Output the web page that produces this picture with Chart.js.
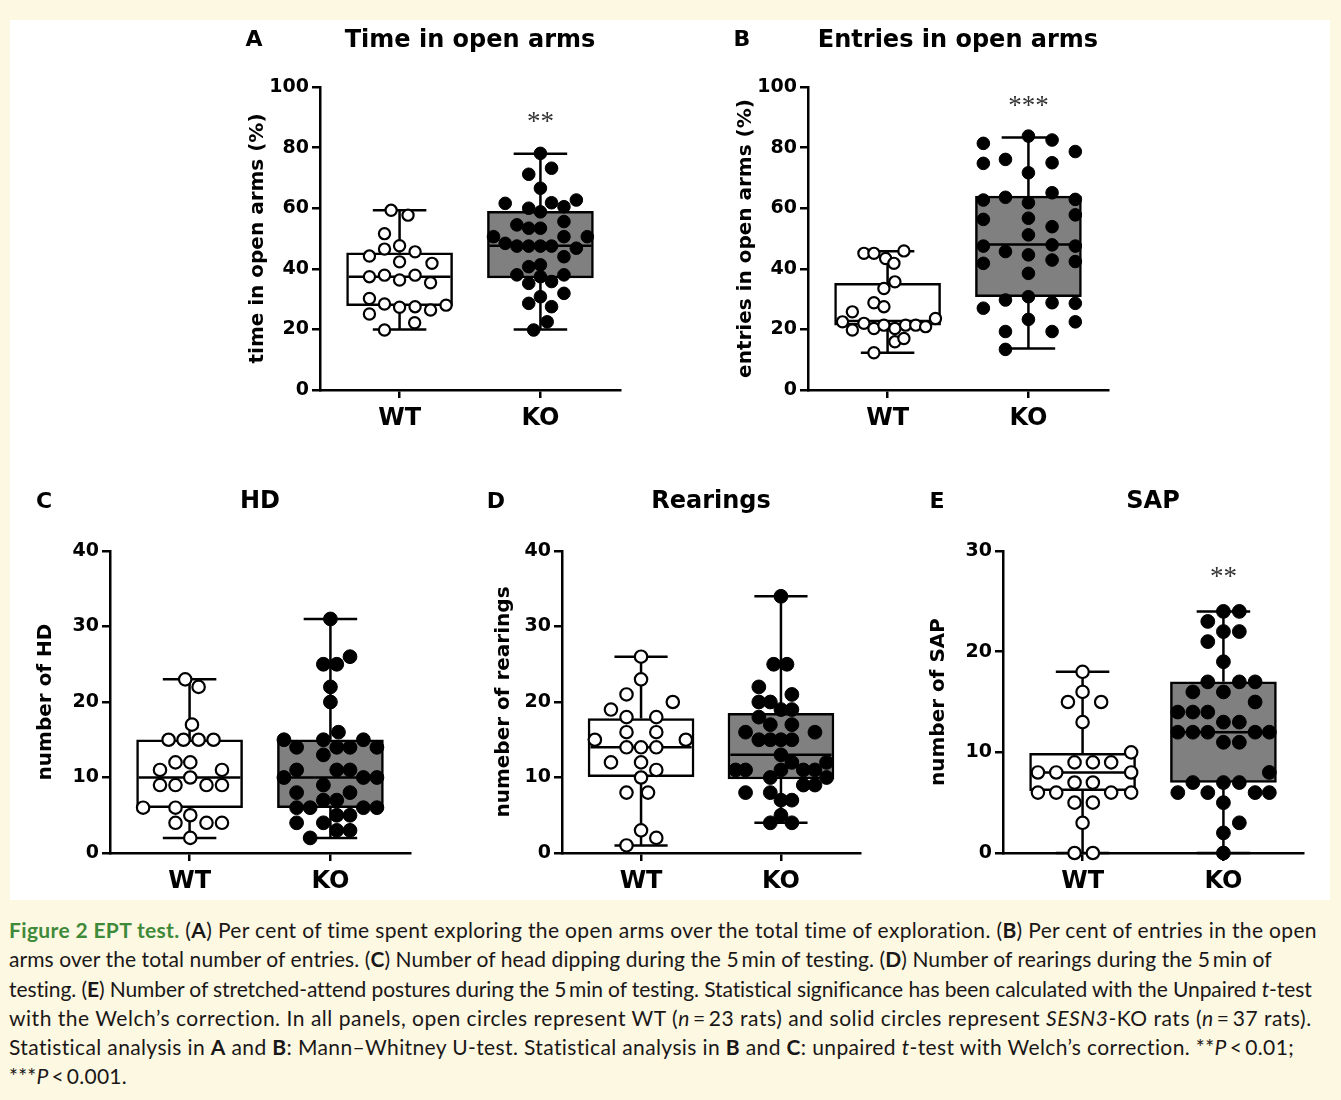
<!DOCTYPE html>
<html><head><meta charset="utf-8">
<script src="https://cdn.jsdelivr.net/npm/chart.js@4"></script>
<style>
html,body{margin:0;padding:0;}
body{width:1341px;height:1100px;background:#fdf8e1;position:relative;overflow:hidden;}
#fig{position:absolute;left:10px;top:20px;width:1320px;height:880px;background:#fff;}
canvas.pc{position:absolute;}
#cap{position:absolute;left:9px;top:915px;font-family:Lato,"Open Sans",sans-serif;font-size:21px;line-height:29.3px;color:#1a1718;white-space:nowrap;}
#cap .ln{width:max-content;}
#cap .g{color:#3f8a3a;font-weight:bold;}
</style></head><body>
<div id="fig"></div>
<canvas id="cA" class="pc" width="430" height="420" style="left:230px;top:20px;width:430px;height:420px"></canvas>
<canvas id="cB" class="pc" width="440" height="420" style="left:720px;top:20px;width:440px;height:420px"></canvas>
<canvas id="cC" class="pc" width="420" height="420" style="left:20px;top:480px;width:420px;height:420px"></canvas>
<canvas id="cD" class="pc" width="412" height="420" style="left:478px;top:480px;width:412px;height:420px"></canvas>
<canvas id="cE" class="pc" width="420" height="420" style="left:913px;top:480px;width:420px;height:420px"></canvas>
<div id="cap">
<div class="ln" data-w="1309"><span class="g">Figure 2 EPT test.</span> (<b>A</b>) Per cent of time spent exploring the open arms over the total time of exploration. (<b>B</b>) Per cent of entries in the open</div>
<div class="ln" data-w="1263">arms over the total number of entries. (<b>C</b>) Number of head dipping during the 5&thinsp;min of testing. (<b>D</b>) Number of rearings during the 5&thinsp;min of</div>
<div class="ln" data-w="1303">testing. (<b>E</b>) Number of stretched-attend postures during the 5&thinsp;min of testing. Statistical significance has been calculated with the Unpaired <i>t</i>-test</div>
<div class="ln" data-w="1303">with the Welch’s correction. In all panels, open circles represent WT (<i>n</i>&thinsp;=&thinsp;23 rats) and solid circles represent <i>SESN3</i>-KO rats (<i>n</i>&thinsp;=&thinsp;37 rats).</div>
<div class="ln" data-w="1287">Statistical analysis in <b>A</b> and <b>B</b>: Mann–Whitney U-test. Statistical analysis in <b>B</b> and <b>C</b>: unpaired <i>t</i>-test with Welch’s correction. **<i>P</i>&thinsp;&lt;&thinsp;0.01;</div>
<div class="ln" data-w="118">***<i>P</i>&thinsp;&lt;&thinsp;0.001.</div>
</div>
<script>
// ---------- data ----------
const groups = ['WT', 'KO'];

// A: time in open arms (%)
const timeWT = [59.3, 57.7, 51.6, 44.2, 46.5, 47.6, 45.6, 42.3, 41.8, 37.4, 37.9, 36.3, 37.9, 35.4, 30.2, 28.4, 27.3, 27.5, 26.4, 28.0, 25.1, 22.2, 19.8];
const timeWTJitter = [-0.06, 0.06, -0.107, -0.214, -0.107, 0, 0.11, 0, 0.23, -0.214, -0.107, 0, 0.11, 0.22, -0.214, -0.107, 0, 0.11, 0.22, 0.33, -0.214, 0.107, -0.107];
const timeKO = [78.1, 73.2, 71.2, 66.6, 61.6, 60.0, 61.8, 60.5, 62.7, 58.8, 54.5, 53.4, 53.4, 55.6, 50.6, 48.4, 47.5, 47.5, 47.5, 47.5, 50.6, 50.6, 46.8, 44.0, 40.7, 41.3, 38.0, 37.4, 35.8, 38.0, 35.2, 31.9, 28.6, 27.5, 30.8, 22.5, 19.8];
const timeKOJitter = [0, 0.079, -0.083, 0, -0.25, -0.083, 0.079, 0.167, 0.255, 0, -0.167, -0.083, 0, 0.167, -0.333, -0.25, -0.167, -0.083, 0, 0.079, 0.167, 0.333, 0.255, 0.167, -0.083, 0, -0.167, 0, 0.079, 0.167, -0.083, 0.167, -0.083, 0.079, 0, 0.048, -0.048];
const timeWTBox = [20, 27.8, 37.4, 45.3, 59.3];   // min, q1, median, q3, max
const timeKOBox = [20, 37.0, 47.6, 59.0, 78];
const timeSig = ['', '**'];
const timeSigAt = [null, 90];

// B: entries in open arms (%)
const entriesWT = [45.1, 45.1, 43.4, 41.8, 45.9, 35.7, 33.5, 28.8, 27.5, 25.8, 22.5, 22.0, 19.8, 20.3, 21.4, 20.3, 21.4, 21.4, 20.9, 23.6, 15.9, 17.0, 12.3];
const entriesWTJitter = [-0.168, -0.097, -0.014, 0.045, 0.116, 0.052, -0.026, -0.097, -0.026, -0.25, -0.32, -0.168, -0.25, -0.097, -0.026, 0.052, 0.128, 0.2, 0.27, 0.34, 0.052, 0.116, -0.097];
const entriesKO = [83.8, 82.5, 81.4, 78.7, 74.8, 76.1, 75.0, 71.7, 62.7, 63.6, 61.8, 65.1, 62.9, 56.3, 56.7, 57.8, 53.9, 51.2, 47.5, 47.9, 47.5, 45.7, 44.6, 41.8, 42.9, 42.4, 38.5, 29.7, 30.8, 27.0, 28.8, 28.6, 23.3, 22.5, 19.3, 19.3, 13.4];
const entriesKOJitter = [0, 0.168, -0.32, 0.333, -0.32, -0.163, 0.168, 0, -0.32, -0.163, 0, 0.168, 0.333, -0.32, 0, 0.333, 0.168, 0, -0.32, 0.168, 0.333, -0.163, 0, -0.32, 0.168, 0.333, 0, -0.163, 0, -0.32, 0.168, 0.333, 0, 0.333, -0.163, 0.168, -0.163];
const entriesWTBox = [12.3, 21.4, 22.8, 35.2, 45.8];
const entriesKOBox = [13.7, 30.8, 48.0, 64.0, 83.3];
const entriesSig = ['', '***'];
const entriesSigAt = [null, 95.5];

// C: number of HD
const hdWT = [23, 22, 17, 15, 15, 15, 15, 12, 12, 11, 11, 10, 9, 9, 9, 9, 6, 6, 5, 4, 4, 4, 2];
const hdWTJitter = [-0.031, 0.064, 0.017, -0.149, -0.043, 0.064, 0.17, -0.10, 0.005, -0.21, 0.23, 0.005, -0.21, -0.10, 0.12, 0.23, -0.33, -0.10, 0.005, -0.10, 0.12, 0.23, 0.005];
const hdKO = [31, 26, 25, 25, 22, 20, 16, 15, 15, 15, 14, 13, 14, 14, 14, 11, 11, 11, 10, 10, 10, 9, 8, 8, 7, 7, 6, 6, 6, 6, 5, 5, 4, 4, 3, 3, 2];
const hdKOJitter = [0, 0.139, -0.05, 0.045, 0, 0, 0.057, -0.33, -0.05, 0.234, -0.24, -0.05, 0.045, 0.139, 0.33, -0.24, 0.045, 0.139, -0.33, 0.234, 0.33, -0.05, -0.24, 0.139, -0.05, 0.045, -0.24, -0.144, 0.234, 0.33, 0.045, 0.139, -0.24, -0.05, 0.045, 0.139, -0.144];
const hdWTBox = [2, 6, 10, 15, 23];
const hdKOBox = [2, 6, 10, 15, 31];

// D: number of rearings
const rearWT = [26, 23, 21, 19, 20, 18, 18, 15, 16, 16, 15, 14, 14, 14, 12, 12, 11, 10, 8, 8, 3, 2, 1];
const rearWTJitter = [0, 0, -0.104, -0.215, 0.227, -0.104, 0.109, -0.33, -0.104, 0.109, 0.32, -0.104, 0, 0.109, -0.215, 0, 0.109, 0, -0.104, 0.05, 0, 0.109, -0.104];
const rearKO = [34, 25, 25, 22, 21, 20, 20, 19, 19, 18, 17, 17, 16, 16, 15, 15, 15, 15, 13, 12, 11, 11, 11, 11, 11, 12, 10, 10, 9, 9, 8, 8, 7, 7, 5, 4, 4];
const rearKOJitter = [0, -0.052, 0.043, -0.158, 0.078, -0.158, -0.076, 0, 0.078, -0.158, -0.076, 0.078, -0.253, 0.243, -0.158, -0.076, 0, 0.078, 0, 0.078, -0.324, -0.253, 0, 0.16, 0.243, 0.326, -0.076, 0.326, 0.16, 0.243, -0.253, -0.076, 0, 0.078, 0, -0.076, 0.078];
const rearWTBox = [1, 10.1, 14, 17.8, 26];
const rearKOBox = [4, 9.8, 13, 18.5, 34];

// E: number of SAP
const sapWT = [18, 16, 15, 15, 13, 10, 9, 9, 9, 8, 8, 8, 7, 7, 6, 6, 6, 6, 5, 5, 3, 0, 0];
const sapWTJitter = [0, 0, -0.104, 0.132, 0, 0.345, -0.057, 0.073, 0.203, -0.317, -0.187, 0.345, -0.057, 0.073, -0.317, -0.187, 0.203, 0.345, -0.057, 0.073, 0, -0.057, 0.073];
const sapKO = [24, 24, 23, 22, 22, 21, 19, 17, 17, 17, 16, 16, 15, 14, 14, 14, 13, 13, 12, 12, 12, 12, 12, 11, 11, 8, 7, 7, 7, 6, 6, 6, 6, 5, 3, 2, 0];
const sapKOJitter = [0, 0.113, -0.111, 0, 0.113, -0.111, 0, -0.111, 0.113, 0.225, -0.217, 0, 0.225, -0.324, -0.217, -0.111, 0, 0.113, -0.324, -0.217, -0.111, 0.225, 0.326, 0, 0.113, 0.326, -0.217, 0, 0.113, -0.324, -0.111, 0.225, 0.326, 0, 0.113, 0, 0];
const sapWTBox = [0, 6.2, 8, 9.9, 18];
const sapKOBox = [0, 7, 12, 17, 24];
const sapSig = ['', '**'];
const sapSigAt = [null, 27.9];

// ---------- caption line fitting ----------
document.querySelectorAll('#cap .ln').forEach(el => {
  const target = +el.dataset.w;
  const w = el.getBoundingClientRect().width;
  const n = el.textContent.trim().length;
  el.style.letterSpacing = ((target - w) / n).toFixed(3) + 'px';
});

// ---------- drawing ----------
const FONT = "'DejaVu Sans', 'Liberation Sans', sans-serif";
const BOX_HALF = 0.376;   // box half-width in category units
const CAP_HALF = 0.19;    // whisker cap half-width in category units

const boxPlugin = {
  id: 'boxWhiskers',
  afterDatasetDraw(chart, args) {
    const ds = chart.data.datasets[args.index];
    if (!ds.stats) return;
    const {ctx} = chart;
    const x = chart.scales.x, y = chart.scales.y;
    ctx.save();
    ctx.strokeStyle = '#000';
    ctx.lineWidth = 2.5;
    ds.stats.forEach((s, i) => {
      const cx = x.getPixelForValue(i + 1);
      const hw = x.getPixelForValue(i + 1 + CAP_HALF) - cx;
      const bw = x.getPixelForValue(i + 1 + BOX_HALF) - cx - 2;
      const [mn, q1, md, q3, mx] = s.map(v => y.getPixelForValue(v));
      ctx.beginPath();
      ctx.moveTo(cx, q1); ctx.lineTo(cx, mn);
      ctx.moveTo(cx, q3); ctx.lineTo(cx, mx);
      ctx.moveTo(cx - hw, mn); ctx.lineTo(cx + hw, mn);
      ctx.moveTo(cx - hw, mx); ctx.lineTo(cx + hw, mx);
      ctx.moveTo(cx - bw, md); ctx.lineTo(cx + bw, md);
      ctx.stroke();
    });
    ctx.restore();
  },
  afterDatasetsDraw(chart) {
    const o = chart.options.plugins.boxWhiskers || {};
    const {ctx} = chart;
    const x = chart.scales.x, y = chart.scales.y;
    ctx.save();
    if (o.sig) {
      ctx.fillStyle = '#333';
      ctx.font = "27px 'Liberation Serif', serif";
      ctx.textAlign = 'center';
      ctx.textBaseline = 'middle';
      o.sig.forEach((t, i) => {
        if (!t) return;
        ctx.fillText(t, x.getPixelForValue(i + 1), y.getPixelForValue(o.sigAt[i]) + 6);
      });
    }
    if (o.letter) {
      const tb = chart.titleBlock;
      const ty = tb.top + tb._padding.top + 14.4;
      ctx.fillStyle = '#000';
      ctx.font = "bold 22px " + FONT;
      ctx.textAlign = 'center';
      ctx.textBaseline = 'middle';
      ctx.fillText(o.letter, chart.chartArea.left - 66, ty);
    }
    ctx.restore();
  }
};

function panel(id, p) {
  const pts = (vals, jit, g) => vals.map((v, i) => ({x: g + 1 + jit[i], y: v}));
  new Chart(document.getElementById(id), {
    type: 'scatter',
    data: {
      datasets: [
        {
          type: 'bar',
          data: [{x: 1, y: [p.wtBox[1], p.wtBox[3]]}, {x: 2, y: [p.koBox[1], p.koBox[3]]}],
          backgroundColor: ['#ffffff', '#808080'],
          borderColor: '#000', borderWidth: 2.5, borderSkipped: false,
          barThickness: 106, order: 2, stats: [p.wtBox, p.koBox]
        },
        {
          type: 'scatter', data: pts(p.wt, p.wtJ, 0), order: 1, clip: false,
          pointRadius: p.r, pointBorderWidth: 2.2, pointBackgroundColor: '#fff', pointBorderColor: '#000'
        },
        {
          type: 'scatter', data: pts(p.ko, p.koJ, 1), order: 1, clip: false,
          pointRadius: p.r + 0.7, pointBorderWidth: 1, pointBackgroundColor: '#000', pointBorderColor: '#000'
        }
      ]
    },
    options: {
      responsive: false, animation: false, events: [],
      layout: {padding: {left: p.padL, right: p.padR, top: 0, bottom: 0}},
      plugins: {
        legend: {display: false}, tooltip: {enabled: false},
        title: {display: true, text: p.title, fullSize: false, color: '#000',
                font: {family: FONT, size: 24, weight: 'bold'},
                padding: {top: p.tTop, bottom: p.tBot}},
        boxWhiskers: {letter: p.letter, sig: p.sig, sigAt: p.sigAt}
      },
      scales: {
        x: {
          type: 'linear', min: 0.435, max: 2.565, offset: false,
          afterBuildTicks: s => { s.ticks = groups.map((g, i) => ({value: i + 1})); },
          afterFit: s => { s.height = p.xh; },
          ticks: {callback: v => groups[v - 1] || '', color: '#000', padding: 6, autoSkip: false, maxRotation: 0,
                  font: {family: FONT, size: 24, weight: 'bold'}},
          grid: {offset: false, drawOnChartArea: false, drawTicks: true, tickLength: 8, color: '#000', lineWidth: 2.5},
          border: {color: '#000', width: 2.5}
        },
        y: {
          min: 0, max: p.yMax,
          afterFit: s => { s.width = p.yw; },
          ticks: {stepSize: p.step, color: '#000', padding: 3, font: {family: FONT, size: 19, weight: 'bold'}},
          title: {display: true, text: p.yTitle, color: '#000', padding: {top: 4, bottom: 0},
                  font: {family: FONT, size: 20, weight: 'bold'}},
          grid: {offset: false, drawOnChartArea: false, tickLength: 8, color: '#000', lineWidth: 2.5},
          border: {color: '#000', width: 2.5}
        }
      }
    },
    plugins: [boxPlugin]
  });
}

panel('cA', {title: 'Time in open arms', letter: 'A', yTitle: 'time in open arms (%)', yMax: 100, step: 20,
  wt: timeWT, wtJ: timeWTJitter, ko: timeKO, koJ: timeKOJitter, wtBox: timeWTBox, koBox: timeKOBox,
  sig: timeSig, sigAt: timeSigAt, r: 5.6, padL: 12, padR: 40, yw: 78, xh: 50, tTop: 6, tBot: 32.2});
panel('cB', {title: 'Entries in open arms', letter: 'B', yTitle: 'entries in open arms (%)', yMax: 100, step: 20,
  wt: entriesWT, wtJ: entriesWTJitter, ko: entriesKO, koJ: entriesKOJitter, wtBox: entriesWTBox, koBox: entriesKOBox,
  sig: entriesSig, sigAt: entriesSigAt, r: 5.6, padL: 10, padR: 52, yw: 78, xh: 50, tTop: 6, tBot: 32.2});
panel('cC', {title: 'HD', letter: 'C', yTitle: 'number of HD', yMax: 40, step: 10,
  wt: hdWT, wtJ: hdWTJitter, ko: hdKO, koJ: hdKOJitter, wtBox: hdWTBox, koBox: hdKOBox,
  r: 6.2, padL: 10, padR: 30, yw: 80, xh: 47, tTop: 7.6, tBot: 34.6});
panel('cD', {title: 'Rearings', letter: 'D', yTitle: 'numeber of rearings', yMax: 40, step: 10,
  wt: rearWT, wtJ: rearWTJitter, ko: rearKO, koJ: rearKOJitter, wtBox: rearWTBox, koBox: rearKOBox,
  r: 6.2, padL: 10, padR: 30, yw: 74, xh: 47, tTop: 7.6, tBot: 34.6});
panel('cE', {title: 'SAP', letter: 'E', yTitle: 'number of SAP', yMax: 30, step: 10,
  wt: sapWT, wtJ: sapWTJitter, ko: sapKO, koJ: sapKOJitter, wtBox: sapWTBox, koBox: sapKOBox,
  sig: sapSig, sigAt: sapSigAt, r: 6.2, padL: 10, padR: 30, yw: 80, xh: 47, tTop: 7.6, tBot: 34.6});
</script>
</body></html>
